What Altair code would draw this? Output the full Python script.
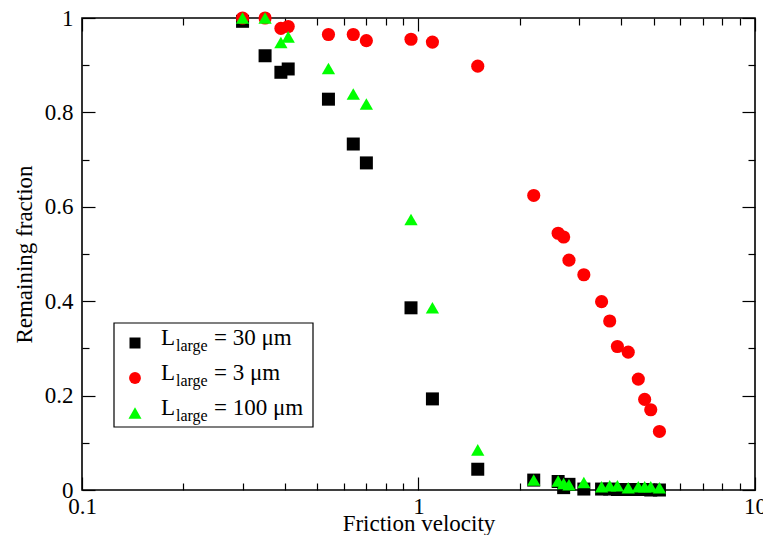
import altair as alt
import pandas as pd

FONT = "Liberation Serif"

# ---- data ----
velocity = [0.3, 0.35, 0.39, 0.41, 0.54, 0.64, 0.7, 0.95, 1.1, 1.5,
            2.2, 2.6, 2.7, 2.8, 3.1, 3.5, 3.7, 3.9, 4.2, 4.5, 4.7, 4.9, 5.2]
frac_30 = [0.993, 0.92, 0.885, 0.892, 0.828, 0.733, 0.693, 0.386, 0.193, 0.044,
           0.021, 0.018, 0.005, 0.012, 0.002, 0.002, 0.002, 0.001, 0.001, 0.001, 0.001, 0.0, 0.0]
frac_3 = [1.0, 1.0, 0.978, 0.982, 0.965, 0.965, 0.952, 0.955, 0.949, 0.898,
          0.624, 0.544, 0.536, 0.487, 0.456, 0.399, 0.358, 0.304, 0.292, 0.235, 0.192, 0.170, 0.124]
frac_100 = [1.0, 1.0, 0.948, 0.96, 0.893, 0.839, 0.818, 0.573, 0.386, 0.085,
            0.021, 0.019, 0.014, 0.011, 0.016, 0.007, 0.009, 0.009, 0.005, 0.007, 0.007, 0.007, 0.005]

series_sizes = [30, 3, 100]
series_values = [frac_30, frac_3, frac_100]
series_colors = ["#000000", "#ff0000", "#00ff00"]
series_shapes = ["square", "circle", "triangle-up"]
marker_sizes = [169, 177, 196]
legend_marker_sizes = [121, 140, 170]

x_major = [0.1, 1, 10]
x_minor = [0.2, 0.3, 0.4, 0.5, 0.6, 0.7, 0.8, 0.9, 2, 3, 4, 5, 6, 7, 8, 9]
y_major = [0, 0.2, 0.4, 0.6, 0.8, 1.0]
y_minor = [0.1, 0.3, 0.5, 0.7, 0.9]

rows = []
for s, vals in zip(series_sizes, series_values):
    for v, f in zip(velocity, vals):
        rows.append({"velocity": v, "fraction": f, "series": f"L = {s} μm"})
df = pd.DataFrame(rows)
series_names = [f"L = {s} μm" for s in series_sizes]

x_scale = alt.Scale(type="log", domain=[0.1, 10], nice=False)
y_scale = alt.Scale(domain=[0, 1], nice=False, zero=False)

MAJOR = 13
MINOR = 7
TXT = dict(labelFont=FONT, labelFontSize=23, labelColor="black",
           titleFont=FONT, titleFontSize=23, titleFontWeight="normal", titleColor="black")


def tick_axis(orient, values, size):
    return alt.Axis(orient=orient, values=values, tickSize=alt.ExprRef(expr=str(-size)),
                    labels=False, domain=False, grid=False, title=None,
                    tickColor="black", tickWidth=1.2)


points = alt.Chart(df).mark_point(filled=True, opacity=1).encode(
    x=alt.X("velocity:Q", scale=x_scale,
            axis=alt.Axis(orient="bottom", values=x_major, format="~g", labelFlush=False,
                          tickSize=alt.ExprRef(expr=str(-MAJOR)), labelPadding=MAJOR + 5,
                          domain=False, grid=False, title="Friction velocity",
                          titlePadding=-6, tickColor="black", tickWidth=1.2, **TXT)),
    y=alt.Y("fraction:Q", scale=y_scale,
            axis=alt.Axis(orient="left", values=y_major, format="~g", labelFlush=False,
                          tickSize=alt.ExprRef(expr=str(-MAJOR)), labelPadding=MAJOR + 9,
                          domain=False, grid=False, title="Remaining fraction",
                          titlePadding=8, tickColor="black", tickWidth=1.2, **TXT)),
    color=alt.Color("series:N", scale=alt.Scale(domain=series_names, range=series_colors), legend=None),
    shape=alt.Shape("series:N", scale=alt.Scale(domain=series_names, range=series_shapes), legend=None),
    size=alt.Size("series:N", scale=alt.Scale(domain=series_names, range=marker_sizes), legend=None),
)


def ghost(xa, ya):
    return alt.Chart(df).mark_point(opacity=0).encode(
        x=alt.X("velocity:Q", scale=x_scale, axis=xa),
        y=alt.Y("fraction:Q", scale=y_scale, axis=ya),
    )


minor_bl = ghost(tick_axis("bottom", x_minor, MINOR), tick_axis("left", y_minor, MINOR))
major_tr = ghost(tick_axis("top", x_major, MAJOR), tick_axis("right", y_major, MAJOR))
minor_tr = ghost(tick_axis("top", x_minor, MINOR), tick_axis("right", y_minor, MINOR))

one = pd.DataFrame({"k": [0]})
legend_layers = [
    alt.Chart(one).mark_rect(fill="white", stroke="black", strokeWidth=1.2).encode(
        x=alt.value(32), x2=alt.value(231), y=alt.value(305), y2=alt.value(409))
]
for i, (s, c, sh, ms) in enumerate(zip(series_sizes, series_colors, series_shapes, legend_marker_sizes)):
    yc = 325 + 35 * i
    legend_layers.append(
        alt.Chart(one).mark_point(shape=sh, filled=True, color=c, size=ms, opacity=1).encode(
            x=alt.value(53), y=alt.value(yc)))
    legend_layers.append(
        alt.Chart(one).mark_text(text="L", font=FONT, fontSize=23, align="left",
                                 baseline="alphabetic", color="black").encode(
            x=alt.value(79), y=alt.value(yc + 2)))
    legend_layers.append(
        alt.Chart(one).mark_text(text="large", font=FONT, fontSize=16, align="left",
                                 baseline="alphabetic", color="black").encode(
            x=alt.value(94), y=alt.value(yc + 8)))
    legend_layers.append(
        alt.Chart(one).mark_text(text=f"= {s} μm", font=FONT, fontSize=23, align="left",
                                 baseline="alphabetic", color="black").encode(
            x=alt.value(132), y=alt.value(yc + 2)))

chart = alt.layer(minor_bl, major_tr, minor_tr, points, *legend_layers).resolve_axis(
    x="independent", y="independent"
).properties(
    width=673, height=472,
    autosize=alt.AutoSizeParams(type="none"),
    padding={"left": 74, "top": 10, "right": 8, "bottom": 45},
    background="white",
).configure(
    font=FONT
).configure_view(
    stroke="black", strokeWidth=1.6
).configure_axis(
    labelFont=FONT, labelFontSize=23, labelColor="black",
    titleFont=FONT, titleFontSize=23, titleFontWeight="normal", titleColor="black",
)

chart.save("out.html", embed_options={"renderer": "svg", "actions": False})
